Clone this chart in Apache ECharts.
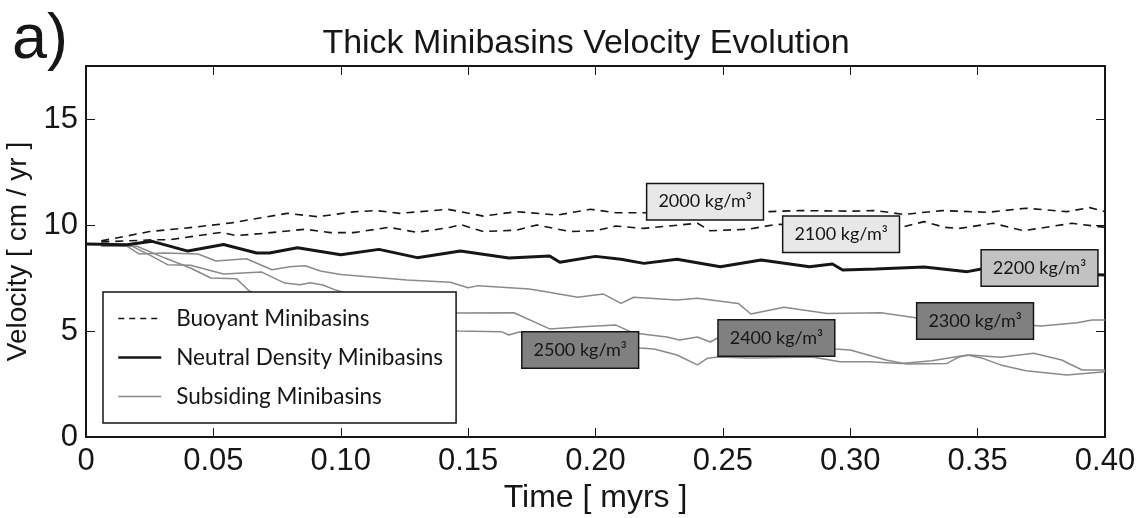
<!DOCTYPE html>
<html>
<head>
<meta charset="utf-8">
<script src="https://cdn.jsdelivr.net/npm/echarts@6/dist/echarts.min.js"></script>
<style>
html,body{margin:0;padding:0;background:#fff;}
#chart{width:1142px;height:518px;}
</style>
</head>
<body>
<div id="chart"></div>
<script>
// ---- data (time in myrs, velocity in cm/yr) ----
const xTicks = [0, 0.05, 0.10, 0.15, 0.20, 0.25, 0.30, 0.35, 0.40];
const yTicks = [0, 5, 10, 15];

const d2000 = [[0.006,9.25],[0.025,9.69],[0.042,9.89],[0.057,10.1],[0.079,10.55],[0.091,10.39],[0.105,10.62],[0.114,10.68],[0.123,10.55],[0.142,10.74],[0.156,10.42],[0.169,10.63],[0.185,10.47],[0.198,10.74],[0.208,10.58],[0.22,10.58],[0.24,10.65],[0.26,10.6],[0.28,10.68],[0.3,10.65],[0.31,10.68],[0.321,10.5],[0.336,10.68],[0.354,10.6],[0.369,10.79],[0.385,10.63],[0.394,10.82],[0.4,10.63]];

const d2100 = [[0.006,9.2],[0.026,9.3],[0.033,9.31],[0.053,9.65],[0.059,9.5],[0.071,9.62],[0.086,9.8],[0.096,9.64],[0.105,9.64],[0.119,9.89],[0.13,9.65],[0.143,9.89],[0.147,10.02],[0.156,9.69],[0.169,9.76],[0.177,10.0],[0.19,9.69],[0.2,9.73],[0.208,9.95],[0.219,9.84],[0.24,10.08],[0.245,9.73],[0.26,9.8],[0.271,10.03],[0.29,10.0],[0.31,9.95],[0.321,9.92],[0.329,10.16],[0.337,9.89],[0.343,9.84],[0.356,10.08],[0.368,9.73],[0.387,10.08],[0.4,9.89]];

const d2200 = [[0,9.1],[0.016,9.07],[0.026,9.23],[0.04,8.77],[0.054,9.08],[0.067,8.68],[0.072,8.68],[0.083,8.93],[0.1,8.6],[0.115,8.85],[0.13,8.46],[0.147,8.77],[0.166,8.44],[0.182,8.54],[0.186,8.24],[0.2,8.52],[0.21,8.38],[0.219,8.19],[0.232,8.38],[0.249,8.03],[0.265,8.35],[0.284,8.03],[0.293,8.16],[0.297,7.88],[0.31,7.92],[0.329,8.02],[0.346,7.8],[0.353,7.96],[0.37,7.8],[0.385,7.7],[0.4,7.64]];

const d2300 = [[0.006,9.0],[0.016,9.0],[0.021,8.63],[0.031,8.68],[0.044,8.63],[0.051,8.3],[0.063,8.41],[0.073,7.89],[0.08,8.03],[0.086,8.08],[0.092,7.83],[0.1,7.67],[0.126,7.4],[0.143,7.3],[0.15,7.04],[0.154,7.14],[0.174,6.98],[0.18,6.86],[0.193,6.59],[0.203,6.75],[0.21,6.3],[0.215,6.59],[0.232,6.46],[0.24,6.54],[0.256,6.3],[0.261,5.8],[0.274,6.12],[0.291,5.83],[0.312,5.86],[0.327,5.6],[0.35,5.45],[0.375,5.24],[0.389,5.39],[0.395,5.52],[0.4,5.52]];

const d2400 = [[0.006,9.0],[0.015,9.05],[0.018,9.0],[0.026,8.52],[0.032,8.13],[0.041,8.1],[0.054,7.69],[0.069,7.78],[0.078,7.26],[0.084,7.18],[0.088,7.28],[0.093,7.17],[0.098,6.93],[0.11,6.5],[0.13,6.1],[0.146,5.85],[0.168,5.86],[0.182,5.1],[0.195,5.2],[0.208,5.28],[0.215,4.9],[0.228,4.72],[0.233,4.58],[0.24,4.72],[0.245,4.48],[0.248,4.67],[0.27,4.45],[0.294,4.15],[0.3,4.1],[0.307,3.87],[0.314,3.63],[0.322,3.44],[0.338,3.47],[0.343,3.79],[0.347,3.87],[0.359,3.76],[0.372,3.95],[0.383,3.63],[0.391,3.16],[0.4,3.16]];

const d2500 = [[0.006,9.0],[0.02,9.0],[0.031,8.44],[0.041,7.97],[0.049,7.5],[0.059,7.47],[0.064,6.9],[0.08,6.0],[0.1,5.4],[0.13,5.05],[0.146,5.0],[0.163,4.97],[0.166,4.81],[0.17,4.95],[0.19,4.6],[0.2175,4.2],[0.223,4.15],[0.232,3.87],[0.24,3.4],[0.244,3.72],[0.248,3.77],[0.261,3.73],[0.285,3.77],[0.296,3.55],[0.307,3.55],[0.32,3.47],[0.332,3.6],[0.346,3.87],[0.352,3.71],[0.359,3.4],[0.369,3.13],[0.385,2.92],[0.4,3.08]];

const groupNames = ['Buoyant Minibasins', 'Neutral Density Minibasins', 'Subsiding Minibasins'];
const labelTexts = ['2000 kg/m³', '2100 kg/m³', '2200 kg/m³', '2300 kg/m³', '2400 kg/m³', '2500 kg/m³'];
const labelAnchors = [[0.243,11.1],[0.2964,9.56],[0.3743,7.97],[0.349,5.47],[0.271,4.67],[0.194,4.1]];

// ---- styles ----
const labelFills = ['#e8e8e8','#e8e8e8','#c2c2c2','#808080','#808080','#808080'];
const INK = '#161616';
const GRAY = '#8a8a8a';
const tickFont = 'Liberation Sans';
const CLEAR = 'rgba(0,0,0,0)';

const chart = echarts.init(document.getElementById('chart'), null, {renderer:'canvas'});

function lineSeries(name, data, style, z){
  return {type:'line', name:name, data:data, symbol:'none', showSymbol:false,
          lineStyle:style, itemStyle:{color:style.color}, z:z, silent:true};
}

const xLabelFmt = v => (Math.abs(v) < 1e-9 ? '0' : v.toFixed(2));
const hiddenSymbol = {color:CLEAR, borderColor:CLEAR, borderWidth:0};

const option = {
  animation:false,
  backgroundColor:'#fff',
  title:[
    {text:'a)', left:12, top:9, padding:0, textStyle:{fontFamily:tickFont, fontSize:63, fontWeight:'normal', color:INK}},
    {text:'Thick Minibasins Velocity Evolution', left:586, top:27, textAlign:'center', padding:0,
     textStyle:{fontFamily:tickFont, fontSize:34, fontWeight:'normal', color:INK}}
  ],
  grid:{left:86, right:37, top:66, bottom:81, containLabel:false, outerBoundsMode:'none'},
  legend:{
    orient:'vertical', left:103, top:292,
    data:[
      {name:groupNames[0], lineStyle:{type:[6,5], width:1.5, color:INK}, itemStyle:hiddenSymbol},
      {name:groupNames[1], lineStyle:{width:2.5, color:INK}, itemStyle:hiddenSymbol},
      {name:groupNames[2], lineStyle:{width:1.5, color:GRAY}, itemStyle:hiddenSymbol}
    ],
    itemWidth:43, itemHeight:20, itemGap:16,
    padding:[15,13,15,14],
    backgroundColor:'#fff', borderColor:INK, borderWidth:1.5,
    textStyle:{fontFamily:'Lato', fontSize:22.5, color:INK, padding:[0,0,0,10]},
    selectedMode:false
  },
  xAxis:[
    {type:'value', min:xTicks[0], max:xTicks[xTicks.length-1], interval:0.05, position:'bottom',
     axisLine:{onZero:false, lineStyle:{color:INK, width:2}},
     axisTick:{inside:true, length:9, lineStyle:{color:INK, width:1}},
     splitLine:{show:false},
     axisLabel:{fontFamily:tickFont, fontSize:31, color:INK, margin:9, formatter:xLabelFmt},
     name:'Time [ myrs ]', nameLocation:'middle', nameGap:44,
     nameTextStyle:{fontFamily:tickFont, fontSize:32, color:INK}},
    {type:'value', min:xTicks[0], max:xTicks[xTicks.length-1], interval:0.05, position:'top',
     axisLine:{onZero:false, lineStyle:{color:INK, width:2}},
     axisTick:{inside:true, length:9, lineStyle:{color:INK, width:1}},
     splitLine:{show:false}, axisLabel:{show:false}}
  ],
  yAxis:[
    {type:'value', min:0, max:17.5, interval:5, position:'left',
     axisLine:{show:true, onZero:false, lineStyle:{color:INK, width:2}},
     axisTick:{show:true, inside:true, length:9, lineStyle:{color:INK, width:1}},
     splitLine:{show:false},
     axisLabel:{fontFamily:tickFont, fontSize:31, color:INK, margin:8, showMaxLabel:false,
                formatter:v => (yTicks.indexOf(v) >= 0 ? String(v) : '')},
     name:'Velocity [ cm / yr ]', nameLocation:'middle', nameGap:43,
     nameTextStyle:{fontFamily:tickFont, fontSize:28, color:INK}},
    {type:'value', min:0, max:17.5, interval:5, position:'right',
     axisLine:{show:true, onZero:false, lineStyle:{color:INK, width:2}},
     axisTick:{show:true, inside:true, length:9, lineStyle:{color:INK, width:1}},
     splitLine:{show:false}, axisLabel:{show:false}}
  ],
  series:[
    lineSeries(groupNames[2], d2300, {color:GRAY, width:1.5}, 2),
    lineSeries(groupNames[2], d2400, {color:GRAY, width:1.5}, 2),
    lineSeries(groupNames[2], d2500, {color:GRAY, width:1.5}, 2),
    lineSeries(groupNames[0], d2000, {color:INK, width:1.6, type:[8,6]}, 3),
    lineSeries(groupNames[0], d2100, {color:INK, width:1.6, type:[8,6]}, 3),
    lineSeries(groupNames[1], d2200, {color:INK, width:3}, 3),
    {type:'scatter', name:'labels', silent:true, z:10,
     symbolSize:2, itemStyle:{color:CLEAR, opacity:1},
     data: labelAnchors.map((p,i) => ({
       value:p,
       label:{show:true, position:'inside', formatter:labelTexts[i], opacity:1,
              backgroundColor:labelFills[i], borderColor:INK, borderWidth:1.5,
              padding:[8,11,7,11], fontFamily:'Lato', fontSize:18, lineHeight:20, color:INK}
     }))}
  ]
};
chart.setOption(option);
</script>
</body>
</html>
